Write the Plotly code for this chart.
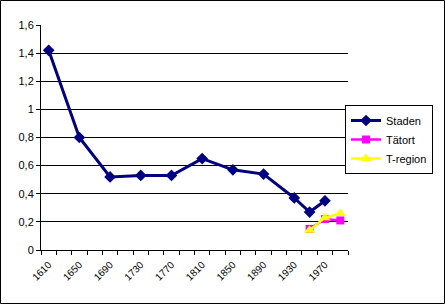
import plotly.graph_objects as go

years_staden = [1610, 1650, 1690, 1730, 1770, 1810, 1850, 1890, 1930, 1950, 1970]
staden = [1.42, 0.80, 0.52, 0.53, 0.53, 0.65, 0.57, 0.54, 0.37, 0.27, 0.35]

years_tatort = [1950, 1970, 1990]
tatort = [0.15, 0.22, 0.21]

years_tregion = [1950, 1970, 1990]
tregion = [0.14, 0.23, 0.26]

x_tick_vals = [1610, 1650, 1690, 1730, 1770, 1810, 1850, 1890, 1930, 1970]
x_tick_text = [str(v) for v in x_tick_vals]
y_tick_vals = [0, 0.2, 0.4, 0.6, 0.8, 1.0, 1.2, 1.4, 1.6]
y_tick_text = ["0", "0,2", "0,4", "0,6", "0,8", "1", "1,2", "1,4", "1,6"]

FONT = "Liberation Sans, Arial, sans-serif"

fig = go.Figure()
fig.add_trace(go.Scatter(
    x=years_staden, y=staden, name="Staden", mode="lines+markers",
    line=dict(color="#000080", width=3),
    marker=dict(symbol="diamond", size=9, color="#000080"),
))
fig.add_trace(go.Scatter(
    x=years_tatort, y=tatort, name="Tätort", mode="lines+markers",
    line=dict(color="#FF00FF", width=2.5),
    marker=dict(symbol="square", size=8, color="#FF00FF"),
))
fig.add_trace(go.Scatter(
    x=years_tregion, y=tregion, name="T-region", mode="lines+markers",
    line=dict(color="#FFFF00", width=2.5),
    marker=dict(symbol="triangle-up", size=10, color="#FFFF00"),
))

L, R, T, B = 41, 348, 25, 250
W, H = 446, 305
pw, ph = R - L, B - T

def px(x):
    return (x - L) / pw

def py(y):
    return (B - y) / ph

fig.update_layout(
    width=W, height=H,
    margin=dict(l=L, r=W - R, t=T, b=H - B, pad=0),
    paper_bgcolor="white", plot_bgcolor="white",
    font=dict(family=FONT, size=11, color="black"),
    showlegend=True,
    legend=dict(
        x=px(433), y=py(105), xanchor="right", yanchor="top",
        bordercolor="black", borderwidth=1, bgcolor="white",
        font=dict(family=FONT, size=11, color="black"),
        tracegroupgap=0, itemwidth=30,
    ),
    xaxis=dict(
        range=[1600, 2000], showgrid=False, zeroline=False,
        showline=True, linecolor="black", linewidth=1,
        tickmode="array", tickvals=x_tick_vals, ticktext=x_tick_text,
        tickangle=-45, ticks="", ticklabelstandoff=4,
        tickfont=dict(family=FONT, size=10),
        minor=dict(ticks="outside", ticklen=4, tickcolor="black",
                   tick0=1600, dtick=20, showgrid=False),
        fixedrange=True,
    ),
    yaxis=dict(
        range=[0, 1.6], showgrid=True, gridcolor="black", gridwidth=1,
        zeroline=False, showline=True, linecolor="black", linewidth=1,
        tickmode="array", tickvals=y_tick_vals, ticktext=y_tick_text,
        ticks="outside", ticklen=4, tickcolor="black",
        tickfont=dict(family=FONT, size=11),
        fixedrange=True,
    ),
    shapes=[dict(
        type="rect", xref="paper", yref="paper",
        x0=px(0.5), x1=px(444.5), y0=py(303.5), y1=py(0.5),
        line=dict(color="black", width=1), fillcolor="rgba(0,0,0,0)",
        layer="above",
    )],
)

fig.write_html("out.html")
